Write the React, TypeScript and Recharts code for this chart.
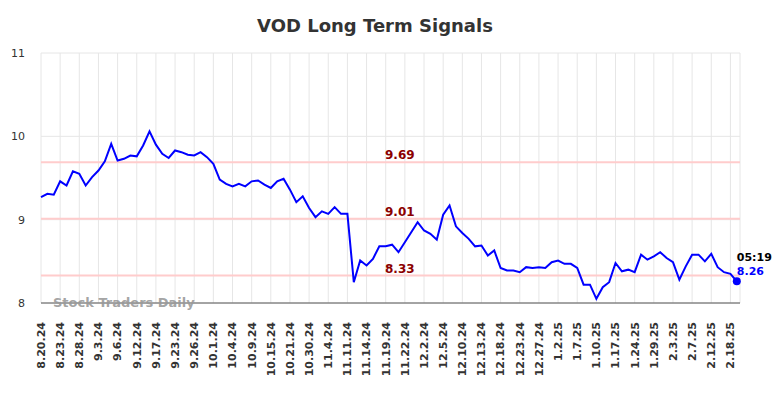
import React from 'react';
import { LineChart, Line, XAxis, YAxis, CartesianGrid, ReferenceLine } from 'recharts';

const tickLabels = [
  '8.20.24', '8.23.24', '8.28.24', '9.3.24', '9.6.24', '9.12.24', '9.17.24', '9.23.24', '9.26.24',
  '10.1.24', '10.4.24', '10.9.24', '10.15.24', '10.21.24', '10.30.24', '11.4.24', '11.11.24',
  '11.14.24', '11.19.24', '11.22.24', '12.2.24', '12.5.24', '12.10.24', '12.13.24', '12.18.24',
  '12.23.24', '12.27.24', '1.2.25', '1.7.25', '1.10.25', '1.17.25', '1.24.25', '1.29.25',
  '2.3.25', '2.7.25', '2.12.25', '2.18.25',
];

const prices = [
  9.27, 9.31, 9.30, 9.46, 9.41, 9.58, 9.55, 9.41, 9.51, 9.59,
  9.70, 9.91, 9.71, 9.73, 9.77, 9.76, 9.89, 10.06, 9.90, 9.79,
  9.74, 9.83, 9.81, 9.78, 9.77, 9.81, 9.75, 9.67, 9.48, 9.43,
  9.40, 9.43, 9.40, 9.46, 9.47, 9.42, 9.38, 9.46, 9.49, 9.36,
  9.21, 9.28, 9.14, 9.03, 9.10, 9.07, 9.15, 9.07, 9.07, 8.25,
  8.51, 8.45, 8.53, 8.68, 8.68, 8.70, 8.61, 8.73, 8.85, 8.97,
  8.87, 8.83, 8.76, 9.06, 9.17, 8.92, 8.84, 8.77, 8.68, 8.69,
  8.57, 8.63, 8.42, 8.39, 8.39, 8.37, 8.43, 8.42, 8.43, 8.42,
  8.49, 8.51, 8.47, 8.47, 8.42, 8.22, 8.22, 8.05, 8.19, 8.25,
  8.48, 8.38, 8.40, 8.37, 8.58, 8.52, 8.56, 8.61, 8.54, 8.49,
  8.28, 8.44, 8.58, 8.58, 8.50, 8.59, 8.43, 8.37, 8.35, 8.26,
];

const signalLevels = [9.69, 9.01, 8.33];
const yTicks = [8, 9, 10, 11];
const lastTime = '05:19';
const lastPriceLabel = '8.26';
const pointsPerTick = 3;

const data = prices.map((v, i) => ({ i, v }));
const xTicks = tickLabels.map((_, k) => k * pointsPerTick);

const FONT = '"DejaVu Sans", sans-serif';

const XTick = (props: any) => {
  const { x, y, payload } = props;
  const label = tickLabels[Math.round(payload.value / pointsPerTick)] ?? '';
  return (
    <g transform={`translate(${x},${y})`}>
      <text
        transform="rotate(-90)"
        x={-19}
        y={0}
        dy="0.35em"
        textAnchor="end"
        fontSize={11}
        fontWeight="bold"
        fill="#333"
        fontFamily={FONT}
      >
        {label}
      </text>
    </g>
  );
};

const RefLabel = (props: any) => {
  const { viewBox, value } = props;
  if (!viewBox) return null;
  return (
    <text
      x={viewBox.x + 344}
      y={viewBox.y - 7}
      dy="0.35em"
      textAnchor="start"
      fontSize={12}
      fontWeight="bold"
      fill="#8b0000"
      fontFamily={FONT}
    >
      {value}
    </text>
  );
};

const lastIndex = prices.length - 1;

const renderDot = (props: any) => {
  const { cx, cy, index } = props;
  if (index !== lastIndex) return <g key={`d${index}`} />;
  return (
    <g key={`d${index}`}>
      <circle cx={cx} cy={cy} r={4} fill="#0000ff" />
      <text x={cx} y={cy - 24.5} dy="0.35em" fontSize={11} fontWeight="bold" fill="#000" fontFamily={FONT}>
        {lastTime}
      </text>
      <text x={cx} y={cy - 10} dy="0.35em" fontSize={11} fontWeight="bold" fill="#0000ff" fontFamily={FONT}>
        {lastPriceLabel}
      </text>
    </g>
  );
};

export default function App() {
  return (
    <div style={{ position: 'absolute', left: 0, top: 0, width: 784, height: 398, background: '#fff' }}>
      <LineChart
        width={784}
        height={398}
        data={data}
        margin={{ top: 53, right: 44, bottom: 35, left: 0 }}
      >
        <CartesianGrid stroke="#e6e6e6" strokeWidth={1} />
        <XAxis
          dataKey="i"
          type="number"
          domain={[0, 109.5]}
          ticks={xTicks}
          interval={0}
          height={60}
          tickSize={0}
          tickMargin={0}
          tickLine={false}
          axisLine={{ stroke: '#555', strokeWidth: 1 }}
          tick={<XTick />}
        />
        <YAxis
          type="number"
          domain={[8, 11]}
          ticks={yTicks}
          width={41}
          axisLine={false}
          tickLine={false}
          tickSize={6}
          tickMargin={10}
          tick={{ fontSize: 11, fill: '#333', fontFamily: FONT }}
        />
        {signalLevels.map((lv) => (
          <ReferenceLine
            key={lv}
            y={lv}
            stroke="#ffcccc"
            strokeWidth={2}
            label={<RefLabel value={lv.toFixed(2)} />}
          />
        ))}
        <Line
          type="linear"
          dataKey="v"
          stroke="#0000ff"
          strokeWidth={2}
          dot={renderDot}
          activeDot={false}
          isAnimationActive={false}
        />
      </LineChart>
      <svg
        width={784}
        height={398}
        style={{ position: 'absolute', left: 0, top: 0, pointerEvents: 'none' }}
      >
        <text
          x={375}
          y={26}
          dy="0.35em"
          textAnchor="middle"
          fontSize={18}
          fontWeight="bold"
          fill="#333"
          fontFamily={FONT}
        >
          VOD Long Term Signals
        </text>
        <text
          x={53}
          y={302.5}
          dy="0.35em"
          textAnchor="start"
          fontSize={13}
          fontWeight="bold"
          fill="#999"
          fillOpacity={0.9}
          fontFamily={FONT}
        >
          Stock Traders Daily
        </text>
      </svg>
    </div>
  );
}
